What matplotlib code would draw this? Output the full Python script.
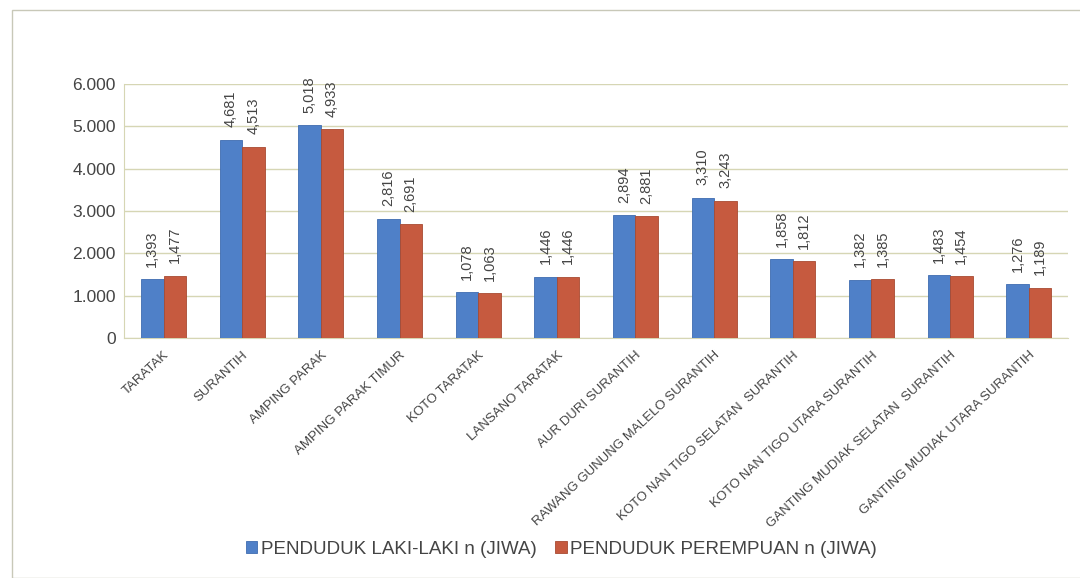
import numpy as np
import matplotlib
matplotlib.use("Agg")
import matplotlib.pyplot as plt
from matplotlib.patches import Rectangle

#--------------------------------------------------------------------------------------------------
# Data
nagari = [
    "TARATAK", "SURANTIH", "AMPING PARAK", "AMPING PARAK TIMUR", "KOTO TARATAK",
    "LANSANO TARATAK", "AUR DURI SURANTIH", "RAWANG GUNUNG MALELO SURANTIH",
    "KOTO NAN TIGO SELATAN  SURANTIH", "KOTO NAN TIGO UTARA SURANTIH",
    "GANTING MUDIAK SELATAN  SURANTIH", "GANTING MUDIAK UTARA SURANTIH",
]
laki = [1393, 4681, 5018, 2816, 1078, 1446, 2894, 3310, 1858, 1382, 1483, 1276]
perempuan = [1477, 4513, 4933, 2691, 1063, 1446, 2881, 3243, 1812, 1385, 1454, 1189]

label_laki = "PENDUDUK LAKI-LAKI n (JIWA)"
label_perempuan = "PENDUDUK PEREMPUAN n (JIWA)"

#--------------------------------------------------------------------------------------------------
# Plot
plt.rcParams['font.family'] = ['Liberation Sans', 'DejaVu Sans']

blue = '#4F80C8'
red = '#C65A3F'
grid_col = '#D6D6B4'
text_col = '#444444'

fig = plt.figure(figsize=(10.8, 5.78), dpi=100)
fig.add_artist(Rectangle((0.011, 0.0), 0.995, 0.983, transform=fig.transFigure,
                         fill=False, edgecolor='#C8C8B8', linewidth=1.0))

ax = fig.add_axes([0.115, 0.415, 0.874, 0.44])

x = np.arange(len(nagari))
w = 0.285
bars1 = ax.bar(x - w / 2, laki, w, color=blue, edgecolor='#3F6CB0', linewidth=0.6,
               label=label_laki, zorder=3)
bars2 = ax.bar(x + w / 2, perempuan, w, color=red, edgecolor='#A84A32', linewidth=0.6,
               label=label_perempuan, zorder=3)

for bars in (bars1, bars2):
    for b in bars:
        v = b.get_height()
        ax.annotate(f"{v:,}", (b.get_x() + b.get_width() / 2, v),
                    xytext=(0, 9), textcoords='offset points',
                    rotation=90, ha='center', va='bottom',
                    fontsize=10.5, color=text_col)

ax.set_xlim(-0.5, len(nagari) - 0.5)
ax.set_ylim(0, 6000)
ax.set_yticks(np.arange(0, 6001, 1000))
ax.set_yticklabels([f"{int(t):,}".replace(",", ".") for t in np.arange(0, 6001, 1000)],
                   fontsize=12.5, color=text_col)
ax.set_xticks(x)
ax.set_xticklabels(nagari, rotation=43, ha='right', rotation_mode='anchor',
                   fontsize=9.5, color=text_col)
ax.tick_params(axis='both', length=0, pad=6)
ax.tick_params(axis='x', pad=8)

ax.grid(axis='y', color=grid_col, linewidth=1.0, zorder=0)
for s in ('top', 'right'):
    ax.spines[s].set_visible(False)
ax.spines['left'].set_color(grid_col)
ax.spines['bottom'].set_color(grid_col)

fig.legend(handles=[bars1, bars2], loc='center', bbox_to_anchor=(0.52, 0.05),
           ncol=2, frameon=False, fontsize=13.5, handlelength=0.6, handleheight=0.6,
           handletextpad=0.2, columnspacing=1.0, labelcolor=text_col)

fig.savefig("out.png", dpi=100, facecolor='white')
